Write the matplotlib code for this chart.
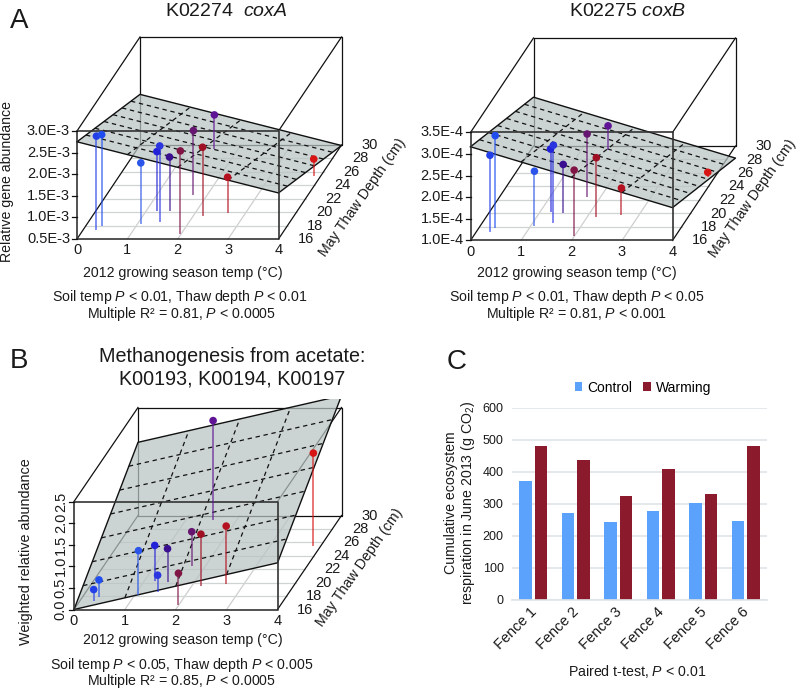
import matplotlib
matplotlib.use("Agg")
import matplotlib.pyplot as plt
import matplotlib.transforms as mtrans
import numpy as np

plt.rcParams['font.family'] = ['Liberation Sans', 'DejaVu Sans']
plt.rcParams['mathtext.fontset'] = 'custom'
plt.rcParams['mathtext.rm'] = 'Liberation Sans'
plt.rcParams['mathtext.it'] = 'Liberation Sans:italic'
plt.rcParams['mathtext.default'] = 'rm'

# same 12 plots in every 3d panel
temp = np.array([0.27, 0.32, 1.07, 1.21, 1.41, 1.47, 1.99, 1.73, 2.18, 1.53, 2.65, 3.86])
depth = np.array([17.3, 17.9, 18.2, 20.2, 18.6, 20.1, 16.7, 22.5, 19.5, 29.4, 19.8, 25.4])
plot_colors = ['#2340e8', '#1f4df0', '#2a55e8', '#2222d8', '#2a35e0', '#3a0f90',
               '#801545', '#661570', '#a01025', '#5f1495', '#b51020', '#d81515']

coxa = np.array([2.68, 2.62, 1.92, 1.87, 2.25, 1.76, 2.43, 2.00, 2.08, 1.29, 1.34, 0.89])
coxb = np.array([2.77, 3.13, 2.26, 2.46, 2.80, 2.12, 2.52, 2.45, 2.37, 1.56, 1.62, 1.11])
meth = np.array([0.26, 0.39, 1.02, 0.83, 0.39, 0.77, 0.73, 0.79, 1.20, 2.29, 1.34, 2.16])

# fitted planes: intercept at (0 C, 16 cm), slope per C, slope per cm
coxa_plane = [2.75, -0.296, -0.077]
coxb_plane = [3.17, -0.3525, -0.0743]
meth_plane = [0.0, 0.27, 0.121]

coxa_ticks = ['0.5E-3', '1.0E-3', '1.5E-3', '2.0E-3', '2.5E-3', '3.0E-3']
coxb_ticks = ['1.0E-4', '1.5E-4', '2.0E-4', '2.5E-4', '3.0E-4', '3.5E-4']
meth_ticks = ['0.0', '0.5', '1.0', '1.5', '2.0', '2.5']

temp_ticks = [0, 1, 2, 3, 4]
depth_ticks = [16, 18, 20, 22, 24, 26, 28, 30]

fences = ['Fence 1', 'Fence 2', 'Fence 3', 'Fence 4', 'Fence 5', 'Fence 6']
control = [370, 272, 242, 277, 304, 246]
warming = [480, 436, 326, 410, 330, 480]

W, H = 800, 690
fig = plt.figure(figsize=(8, 6.9), dpi=100)

FS = 10.2
TICK_FS = 10.5


def ftext(x, y, s, **kw):
    # x, y in pixels from top left
    kw.setdefault('ha', 'center')
    kw.setdefault('va', 'center')
    kw.setdefault('fontsize', FS)
    kw.setdefault('color', '#1a1a1a')
    fig.text(x / W, 1 - y / H, s, **kw)


def panel3d(x0, y0, width, height, back_dx, back_dy, zmin, zmax, z, plane, zlabels,
            zrot=0, top_margin=6):
    # x0,y0 = front bottom left corner in pixels, box is sheared towards the back
    right = x0 + width + back_dx + 6
    top = y0 - back_dy - height - top_margin
    bottom = y0 + 6
    left = x0 - 8
    ax = fig.add_axes([left / W, 1 - bottom / H, (right - left) / W, (bottom - top) / H])
    xpx = width / 4
    zpx = height / (zmax - zmin)
    ax.set_xlim((left - x0) / xpx, (right - x0) / xpx)
    ax.set_ylim(zmin - (bottom - y0) / zpx, zmin + (y0 - top) / zpx)
    ax.axis('off')

    def sx(x, d):
        return np.asarray(x) + (np.asarray(d) - 16) / 14 * back_dx / xpx

    def sy(zv, d):
        return np.asarray(zv) + (np.asarray(d) - 16) / 14 * back_dy / zpx

    # floor grid
    for t in temp_ticks[1:-1]:
        ax.plot(sx([t, t], [16, 30]), sy([zmin, zmin], [16, 30]), color='#cfcfcf', lw=0.9, zorder=1)
    for d in depth_ticks[1:-1]:
        ax.plot(sx([0, 4], [d, d]), sy([zmin, zmin], [d, d]), color='#cfd3d3', lw=0.9, zorder=1)

    # back part of the box
    box = '#111111'
    ax.plot(sx([0, 4, 4, 0, 0], [30] * 5), sy([zmin, zmin, zmax, zmax, zmin], [30] * 5),
            color=box, lw=0.9, zorder=2)
    for t, zv in [(0, zmin), (4, zmin), (0, zmax), (4, zmax)]:
        ax.plot(sx([t, t], [16, 30]), sy([zv, zv], [16, 30]), color=box, lw=0.9, zorder=2)

    # plane
    def pz(t, d):
        return plane[0] + plane[1] * np.asarray(t) + plane[2] * (np.asarray(d) - 16)

    ct = np.array([0, 4, 4, 0])
    cd = np.array([16, 16, 30, 30])
    ax.fill(sx(ct, cd), sy(pz(ct, cd), cd), facecolor='#b9c4c3', alpha=0.72, edgecolor='none', zorder=3)
    ax.plot(sx(np.append(ct, 0), np.append(cd, 16)), sy(pz(np.append(ct, 0), np.append(cd, 16)), np.append(cd, 16)),
            color=box, lw=1.0, zorder=4)
    for t in temp_ticks[1:-1]:
        ax.plot(sx([t, t], [16, 30]), sy(pz([t, t], [16, 30]), [16, 30]), color=box, lw=0.9,
                dashes=(3.5, 3), zorder=4)
    for d in depth_ticks[1:-1]:
        ax.plot(sx([0, 4], [d, d]), sy(pz([0, 4], [d, d]), [d, d]), color=box, lw=0.9,
                dashes=(3.5, 3), zorder=4)

    # front of the box
    ax.plot(sx([0, 4, 4, 0, 0], [16] * 5), sy([zmin, zmin, zmax, zmax, zmin], [16] * 5),
            color='#333333', lw=1.2, zorder=5)

    # stems and points
    for i in range(len(temp)):
        ax.plot(sx([temp[i], temp[i]], [depth[i], depth[i]]), sy([zmin, z[i]], [depth[i], depth[i]]),
                color=plot_colors[i], lw=1.1, alpha=0.75, zorder=6, solid_capstyle='butt')
    ax.scatter(sx(temp, depth), sy(z, depth), c=plot_colors, s=30, linewidths=0, zorder=7)

    # tick labels
    for t in temp_ticks:
        ax.annotate(str(t), (sx(t, 16), zmin), xytext=(0, -8), textcoords='offset points',
                    ha='center', va='center', fontsize=TICK_FS, color='#1a1a1a', annotation_clip=False)
    for d in depth_ticks:
        ax.annotate(str(d), (sx(4, d), sy(zmin, d)), xytext=(20, 0), textcoords='offset points',
                    ha='center', va='center', fontsize=TICK_FS, color='#1a1a1a', annotation_clip=False)
    zvals = np.linspace(zmin, zmax, len(zlabels))
    for zv, lab in zip(zvals, zlabels):
        ax.plot([sx(0, 16), sx(-5 / xpx, 16)], [zv, zv], color=box, lw=0.9, clip_on=False, zorder=5)
        if zrot:
            ax.annotate(lab, (0, zv), xytext=(-4.5, 0), textcoords='offset points', rotation=90,
                        ha='right', va='center', fontsize=TICK_FS, color='#1a1a1a', annotation_clip=False)
        else:
            ax.annotate(lab, (0, zv), xytext=(-5, 0), textcoords='offset points',
                        ha='right', va='center', fontsize=TICK_FS, color='#1a1a1a', annotation_clip=False)
    return ax


# panel A left
panel3d(77, 239, 201.5, 108, 63, 94, 0.5, 3.0, coxa, coxa_plane, coxa_ticks)
ftext(19, 21, 'A', fontsize=20)
ftext(226.5, 12, r'K02274  $\mathit{coxA}$', fontsize=14)
ftext(7, 182, 'Relative gene abundance', rotation=90)
ftext(183, 273, '2012 growing season temp (°C)')
ftext(180, 296.5, r'Soil temp $\mathit{P}$ < 0.01, Thaw depth $\mathit{P}$ < 0.01')
ftext(182, 314, r'Multiple R² = 0.81, $\mathit{P}$ < 0.0005')
ftext(363, 197, 'May Thaw Depth (cm)', rotation=55, fontsize=10.3)

# panel A right
panel3d(470.5, 240.5, 202, 108, 63, 94.5, 1.0, 3.5, coxb, coxb_plane, coxb_ticks)
ftext(628, 12, r'K02275 $\mathit{coxB}$', fontsize=14)
ftext(577, 273, '2012 growing season temp (°C)')
ftext(577, 296.5, r'Soil temp $\mathit{P}$ < 0.01, Thaw depth $\mathit{P}$ < 0.05')
ftext(577, 314, r'Multiple R² = 0.81, $\mathit{P}$ < 0.001')
ftext(753, 198, 'May Thaw Depth (cm)', rotation=55, fontsize=10.3)

# panel B
panel3d(74, 609.5, 203.5, 108, 64, 94, 0.0, 2.5, meth, meth_plane, meth_ticks, zrot=90, top_margin=9)
ftext(19, 361, 'B', fontsize=20)
ftext(232, 356, 'Methanogenesis from acetate:', fontsize=14.2)
ftext(232, 379, 'K00193, K00194, K00197', fontsize=14.2)
ftext(26, 552, 'Weighted relative abundance', rotation=90, fontsize=10.4)
ftext(183, 640, '2012 growing season temp (°C)')
ftext(182, 664.5, r'Soil temp $\mathit{P}$ < 0.05, Thaw depth $\mathit{P}$ < 0.005')
ftext(182, 681, r'Multiple R² = 0.85, $\mathit{P}$ < 0.0005')
ftext(360, 567, 'May Thaw Depth (cm)', rotation=55, fontsize=10.3)

# panel C
ax = fig.add_axes([512 / W, 1 - 600 / H, 255 / W, 192.3 / H])
x = np.arange(len(fences))
bw = 0.3
ax.bar(x - 0.18, control, bw, color='#5aa2fb', label='Control', zorder=2)
ax.bar(x + 0.18, warming, bw, color='#8a1a2c', label='Warming', zorder=2)
ax.set_xlim(-0.5, 5.5)
ax.set_ylim(0, 600)
ax.set_yticks(range(0, 601, 100))
ax.grid(axis='y', color='#dfe4e7', lw=1.2, zorder=0)
ax.set_axisbelow(True)
for s in ['top', 'right', 'left']:
    ax.spines[s].set_visible(False)
ax.spines['bottom'].set_color('#dfe4e7')
ax.spines['bottom'].set_linewidth(1.2)
ax.tick_params(axis='x', length=0, labelsize=10.5, labelcolor='#1a1a1a')
ax.tick_params(axis='y', length=0, labelsize=9, labelcolor='#1a1a1a', pad=6)
ax.set_xticks(x)
ax.set_xticklabels(fences, rotation=45, ha='right', rotation_mode='anchor')
shift = mtrans.ScaledTranslation(-4 / 100, 0, fig.dpi_scale_trans)
for lab in ax.get_xticklabels():
    lab.set_transform(lab.get_transform() + shift)
leg = ax.legend(loc='center', bbox_to_anchor=(131 / 255, 1.105), ncol=2, frameon=False, fontsize=10,
                handlelength=0.55, handleheight=0.55, handletextpad=0.35, columnspacing=0.8)
ftext(457, 362, 'C', fontsize=20)
ftext(451, 503, 'Cumulative ecosystem', rotation=90)
ftext(468, 503, r'respiration in June 2013 (g CO$_2$)', rotation=90)
ftext(637, 671, r'Paired t-test, $\mathit{P}$ < 0.01')

fig.savefig('out.png', dpi=100)
